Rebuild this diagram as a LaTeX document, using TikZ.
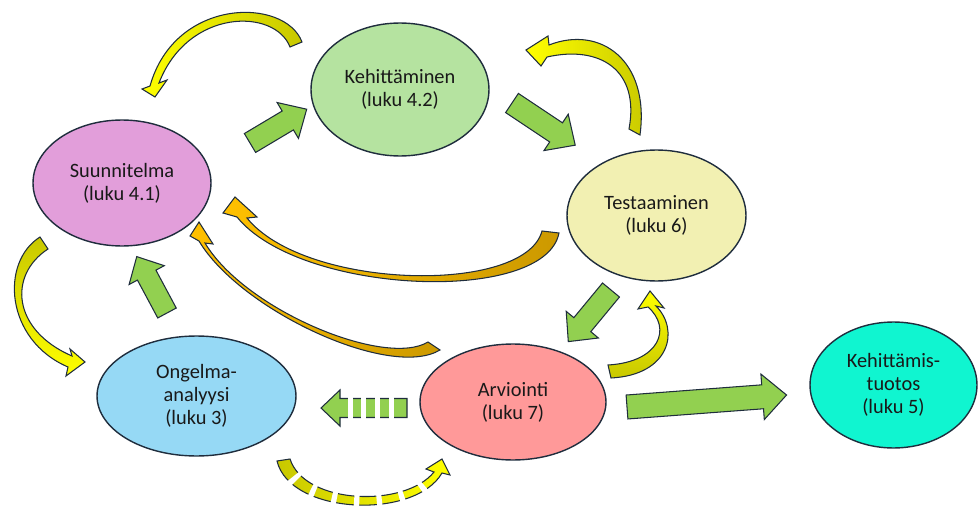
\documentclass[tikz,border=0pt]{standalone}
\usepackage{fontspec}
\setmainfont{Carlito}
\usepackage{tikz}
\usetikzlibrary{shapes.geometric}

\definecolor{edge}{HTML}{1F2D3D}
\definecolor{plum}{HTML}{E29EDA}
\definecolor{mint}{HTML}{B5E3A0}
\definecolor{cream}{HTML}{F2F0B2}
\definecolor{sky}{HTML}{96D9F5}
\definecolor{salmon}{HTML}{FF9999}
\definecolor{aqua}{HTML}{10F5D0}
\definecolor{leaf}{HTML}{92D050}
\definecolor{sunny}{HTML}{FFFF00}
\definecolor{olive}{HTML}{C8C800}
\definecolor{amber}{HTML}{FFC000}
\definecolor{ochre}{HTML}{CC9900}

% straight block arrow: tail, angle, length, shaft width
\newcommand{\blockarrow}[4]{%
  \begin{scope}[shift={#1}, rotate=#2]
    \draw[fatarrow] (0,{-#4/2}) -- ({#3-#4},{-#4/2}) -- ({#3-#4},{-0.95*#4}) -- (#3,0)
      -- ({#3-#4},{0.95*#4}) -- ({#3-#4},{#4/2}) -- (0,{#4/2}) -- cycle;
  \end{scope}}

\begin{document}
\begin{tikzpicture}[x=0.02cm, y=-0.02cm,
    stage/.style={ellipse, draw=edge, line width=0.8pt, inner sep=0pt, align=center,
      text=black!90, font=\fontsize{11.6}{13}\selectfont},
    fatarrow/.style={draw=edge, line width=0.6pt, fill=leaf},
    twist/.style={draw=edge, line width=0.6pt}]
	\useasboundingbox (0,0) rectangle (978,507);

	% stages
	\node [stage, fill=plum, minimum width=3.56cm, minimum height=2.52cm] (plan) at (122,183) {Suunnitelma\\(luku 4.1)};
	\node [stage, fill=mint, minimum width=3.56cm, minimum height=2.66cm] (dev) at (400,89.5) {Kehittäminen\\(luku 4.2)};
	\node [stage, fill=cream, minimum width=3.58cm, minimum height=2.62cm] (test) at (656.5,215.5) {Testaaminen\\(luku 6)};
	\node [stage, fill=sky, minimum width=3.98cm, minimum height=2.4cm] (anal) at (196.5,396) {Ongelma-\\analyysi\\(luku 3)};
	\node [stage, fill=salmon, minimum width=3.72cm, minimum height=2.32cm] (eval) at (513,402) {Arviointi\\(luku 7)};
	\node [stage, fill=aqua, minimum width=3.34cm, minimum height=2.52cm] (prod) at (893.5,385) {Kehittämis-\\tuotos\\(luku 5)};

	% green block arrows
	\blockarrow{(250,143)}{30.8}{66}{22}
	\blockarrow{(512,103)}{-33.7}{76}{23}
	\blockarrow{(611,290)}{230.4}{67}{22}
	\blockarrow{(167,313)}{118.2}{64}{21}
	\blockarrow{(627,407)}{4.3}{160}{24}
	\blockarrow{(407,408)}{180}{86}{19}
	\foreach \gx in {350.5,363.5,377.5,391.5}
		\draw [white, line width=0.1cm] (\gx,396) -- (\gx,420);

	% curved arrows
	\draw [twist, left color=sunny, right color=olive] (302,42) .. controls (285,-3) and (175,-3) .. (150,86)
		-- (142,89) -- (155,97) -- (167,80) -- (159,83) .. controls (188,8) and (275,8) .. (290,47) -- cycle;
	\draw [twist, left color=sunny, right color=olive] (640,135) .. controls (650,60) and (600,25) .. (549,45)
		-- (548,36) -- (526,50) -- (541,66) -- (547,57) .. controls (600,45) and (640,70) .. (629,129) -- cycle;
	\draw [twist, top color=olive, bottom color=sunny] (40,237) .. controls (0,262) and (5,340) .. (68,367)
		-- (66,376) -- (85,362) -- (70,349) -- (72,356) .. controls (12,330) and (8,275) .. (48,249) -- cycle;
	\draw [twist, left color=amber, right color=ochre] (559,233) .. controls (545,305) and (300,295) .. (237,217)
		-- (223,213) -- (235,197) -- (257,217) -- (247,218) .. controls (305,290) and (525,295) .. (542,231) -- cycle;
	\draw [twist, left color=amber, right color=ochre] (440,350) .. controls (390,380) and (240,310) .. (199,241)
		-- (190,236) -- (199,222) -- (213,244) -- (205,243) .. controls (245,310) and (385,368) .. (428,342) -- cycle;
	\draw [twist, top color=sunny, bottom color=olive] (611,378) .. controls (670,375) and (680,330) .. (656,306)
		-- (664,308) -- (650,291) -- (638,309) -- (648,307) .. controls (672,328) and (660,362) .. (608,365) -- cycle;
	\draw [twist, left color=olive, right color=sunny] (277,461) .. controls (290,515) and (415,520) .. (442,473)
		-- (450,475) -- (442,459) -- (426,469) -- (434,472) .. controls (405,508) and (305,505) .. (290,459) -- cycle;
	\draw [white, line width=0.4cm, dash pattern=on 3pt off 10pt, dash phase=3pt]
		(284,462) .. controls (296,512) and (408,514) .. (430,478);
\end{tikzpicture}
\end{document}
